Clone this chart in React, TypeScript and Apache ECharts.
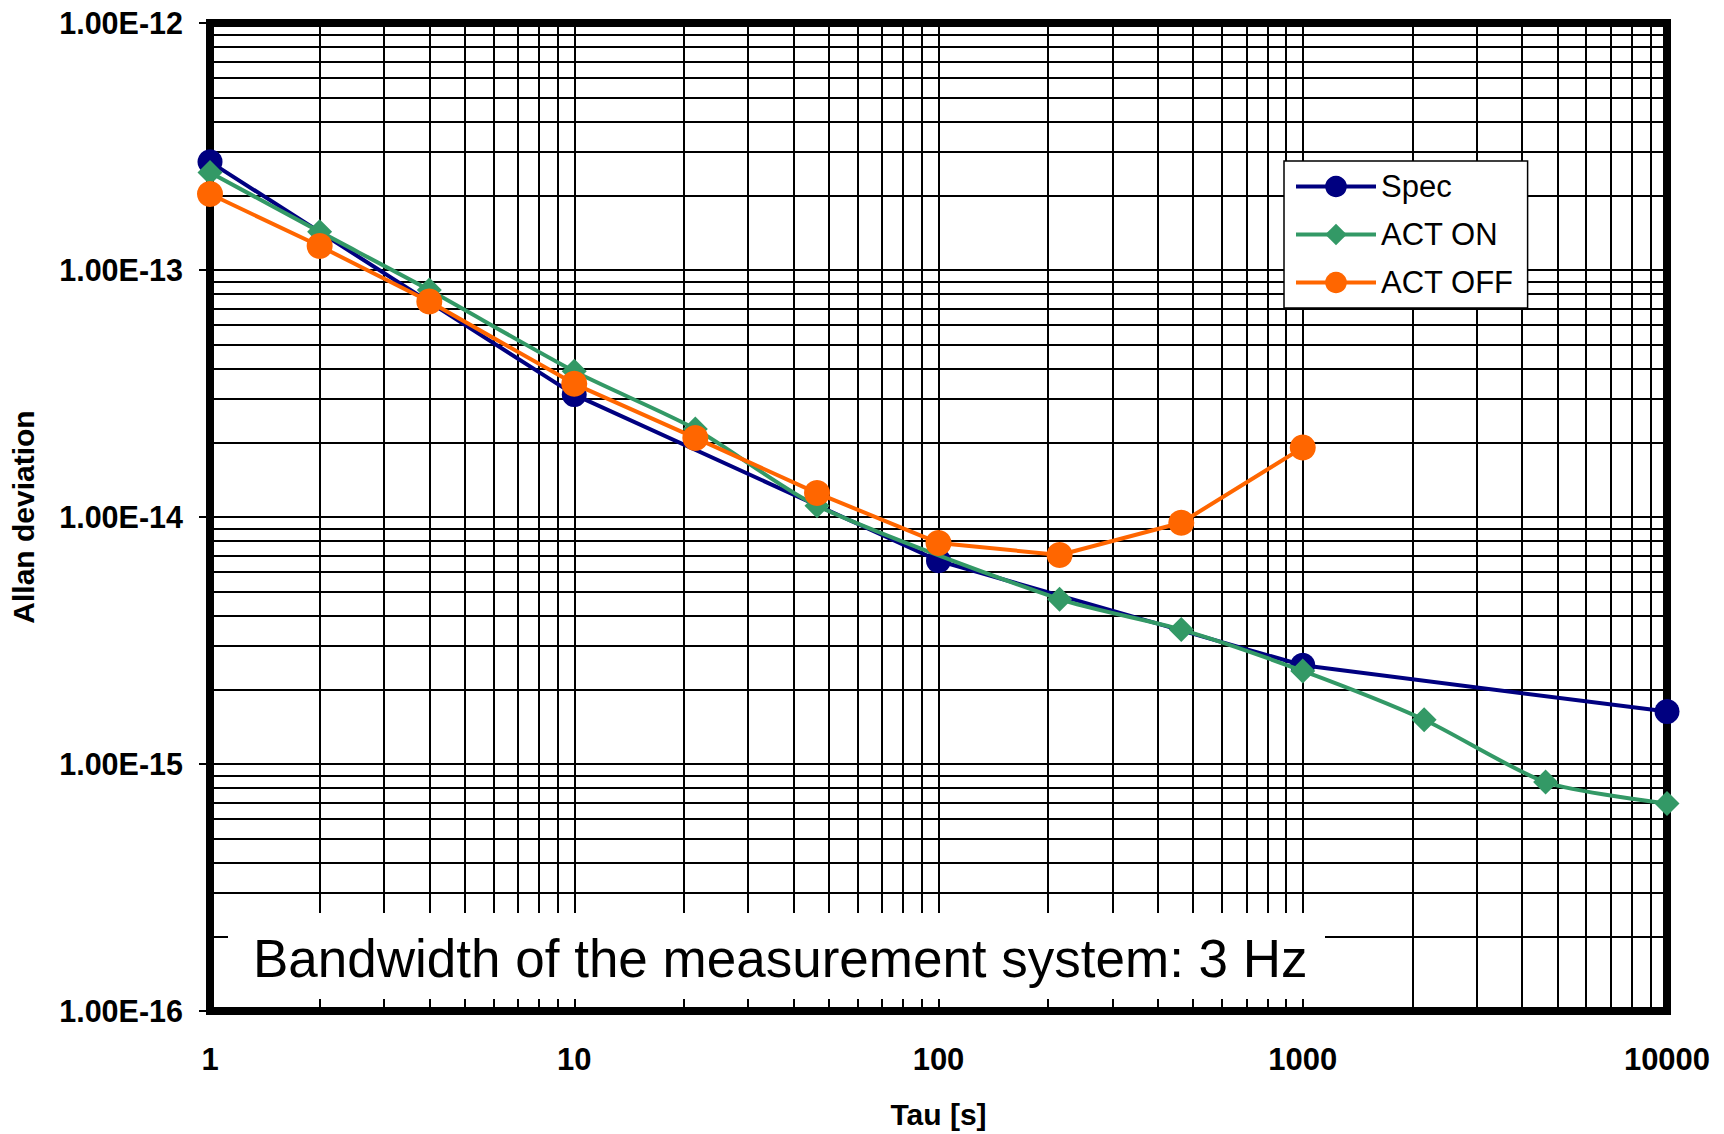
import React, { useEffect, useRef } from "react";
import * as echarts from "echarts";

const seriesNames = ["Spec", "ACT ON", "ACT OFF"];
const specTau = [1, 10, 100, 1000, 10000];
const specVal = [2.74e-13, 3.13e-14, 6.65e-15, 2.51e-15, 1.63e-15];
const onTau = [1, 2, 4, 10, 21.5, 46.4, 215, 464, 1000, 2154, 4642, 10000];
const onVal = [2.48e-13, 1.43e-13, 8.3e-14, 3.89e-14, 2.27e-14, 1.11e-14, 4.65e-15, 3.5e-15, 2.38e-15, 1.51e-15, 8.45e-16, 6.92e-16];
const offTau = [1, 2, 4, 10, 21.5, 46.4, 100, 215, 464, 1000];
const offVal = [2.03e-13, 1.25e-13, 7.45e-14, 3.46e-14, 2.09e-14, 1.25e-14, 7.85e-15, 7.02e-15, 9.48e-15, 1.91e-14];
const xMin = 1;
const xMax = 10000;
const yMin = 1e-16;
const yMax = 1e-12;
const xDecades = [1, 10, 100, 1000];
const yDecades = [1e-16, 1e-15, 1e-14, 1e-13];
const minorSteps = [2, 3, 4, 5, 6, 7, 8, 9];
const noteText = "Bandwidth of the measurement system: 3 Hz";

const FONT = "'Liberation Sans', Arial, sans-serif";

export default function App() {
  const ref = useRef<HTMLDivElement>(null);
  useEffect(() => {
    if (!ref.current) return;
    const chart = echarts.init(ref.current, null, { renderer: "svg" });
    const pairs = (t: number[], v: number[]) => t.map((x, i) => [x, v[i]]);
    const gridLineData: any[] = [];
    xDecades.forEach((d) =>
      minorSteps.forEach((k) => gridLineData.push([{ coord: [d * k, yMin] }, { coord: [d * k, yMax] }]))
    );
    yDecades.forEach((d) =>
      minorSteps.forEach((k) => gridLineData.push([{ coord: [xMin, d * k] }, { coord: [xMax, d * k] }]))
    );

    chart.setOption({
      animation: false,
      backgroundColor: "#fff",
      textStyle: { fontFamily: FONT },
      grid: {
        left: 210,
        right: 57,
        top: 23,
        bottom: 119,
        show: true,
        borderColor: "#000",
        borderWidth: 8,
        backgroundColor: "#fff",
      },
      legend: {
        data: seriesNames,
        orient: "vertical",
        left: 1284,
        top: 161,
        z: 50,
        padding: [10, 14, 10, 10],
        itemWidth: 80,
        itemHeight: 27,
        itemGap: 17,
        backgroundColor: "#fff",
        borderColor: "#000",
        borderWidth: 1.5,
        borderRadius: 0,
        lineStyle: { width: 4 },
        textStyle: { fontSize: 31, color: "#000", fontFamily: FONT, padding: [0, 0, 0, 0], lineHeight: 27 },
      },
      xAxis: {
        type: "log",
        logBase: 10,
        min: xMin,
        max: xMax,
        interval: 1,
        name: "Tau [s]",
        nameLocation: "middle",
        nameGap: 88,
        nameTextStyle: { fontSize: 30, fontWeight: "bold", color: "#000", fontFamily: FONT },
        axisLine: { show: false },
        axisTick: { show: false },
        axisLabel: {
          margin: 33,
          fontSize: 31,
          fontWeight: "bold",
          color: "#000",
          fontFamily: FONT,
          formatter: (v: number) => String(Math.round(v)),
        },
        splitLine: { show: true, lineStyle: { color: "#000", width: 2 } },
      },
      yAxis: {
        type: "log",
        logBase: 10,
        min: yMin,
        max: yMax,
        interval: 1,
        name: "Allan deviation",
        nameLocation: "middle",
        nameRotate: 90,
        nameGap: 172,
        nameTextStyle: { fontSize: 30, fontWeight: "bold", color: "#000", fontFamily: FONT },
        axisLine: { show: false },
        axisTick: { show: true, inside: false, length: 11, lineStyle: { color: "#000", width: 2 } },
        axisLabel: {
          margin: 27,
          fontSize: 30.5,
          fontWeight: "bold",
          color: "#000",
          fontFamily: FONT,
          formatter: (v: number) => "1.00E" + Math.round(Math.log10(v)),
        },
        splitLine: { show: true, lineStyle: { color: "#000", width: 2 } },
      },
      series: [
        {
          name: "gridlines",
          type: "line",
          data: [],
          z: 1,
          silent: true,
          markLine: {
            silent: true,
            symbol: "none",
            label: { show: false },
            lineStyle: { color: "#000", width: 2, type: "solid" },
            data: gridLineData,
          },
        },
        {
          name: "Spec",
          type: "line",
          data: pairs(specTau, specVal),
          symbol: "circle",
          symbolSize: 25,
          clip: false,
          z: 5,
          itemStyle: { color: "#000080" },
          lineStyle: { color: "#000080", width: 4 },
        },
        {
          name: "ACT ON",
          type: "line",
          data: pairs(onTau, onVal),
          symbol: "diamond",
          symbolSize: 25,
          smooth: 0.25,
          clip: false,
          z: 6,
          itemStyle: { color: "#339966" },
          lineStyle: { color: "#339966", width: 4 },
        },
        {
          name: "ACT OFF",
          type: "line",
          data: pairs(offTau, offVal),
          symbol: "circle",
          symbolSize: 26,
          clip: false,
          z: 7,
          itemStyle: { color: "#FF6600" },
          lineStyle: { color: "#FF6600", width: 4 },
        },
      ],
      graphic: [
        {
          type: "rect",
          z: 100,
          zlevel: 0,
          shape: { x: 228, y: 913, width: 1097, height: 86 },
          style: { fill: "#fff" },
        },
        {
          type: "text",
          z: 101,
          zlevel: 0,
          x: 253,
          y: 958,
          style: {
            text: noteText,
            fontSize: 53,
            fontFamily: FONT,
            fill: "#000",
            verticalAlign: "middle",
            align: "left",
          },
        },
      ],
    });
    return () => chart.dispose();
  }, []);
  return <div ref={ref} style={{ position: "fixed", left: 0, top: 0, width: 1724, height: 1134 }} />;
}
